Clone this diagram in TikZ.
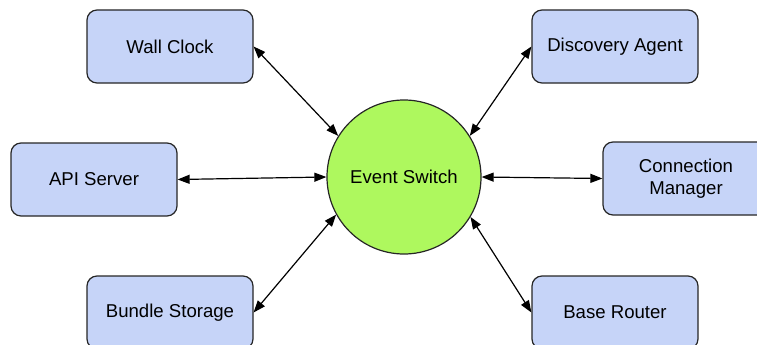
\documentclass[tikz,border=0pt]{standalone}
\usepackage{fontspec}
\setmainfont{Liberation Sans}
\usetikzlibrary{arrows.meta}
\definecolor{boxblue}{RGB}{198,212,248}
\definecolor{hubgreen}{RGB}{174,248,94}
\begin{document}
\begin{tikzpicture}[x=1pt,y=-1pt,
  comp/.style={draw=black!85,line width=1.2pt,fill=boxblue,rounded corners=10pt,
    minimum width=166pt,minimum height=73pt,inner sep=0pt,align=center,
    font=\fontsize{18.6}{22}\selectfont},
  hub/.style={draw=black!85,line width=1.2pt,fill=hubgreen,circle,
    minimum size=154pt,inner sep=0pt,font=\fontsize{18.6}{22}\selectfont},
  link/.style={line width=1.2pt,{Triangle[length=12pt,width=9pt]}-{Triangle[length=12pt,width=9pt]}}]
\useasboundingbox (0,0) rectangle (757,345);
\node[hub] (es) at (404,177) {Event Switch};
\node[comp] (wc) at (170,46.5) {Wall Clock};
\node[comp] (api) at (94,179.5) {API Server};
\node[comp] (bs) at (170,312.5) {Bundle Storage};
\node[comp] (da) at (615,46.5) {Discovery Agent};
\node[comp] (cm) at (686,178.5) {Connection\\Manager};
\node[comp] (br) at (615,312.5) {Base Router};
\draw[link] (wc.east) -- (es.148);
\draw[link] (api.east) -- (es.west);
\draw[link] (bs.east) -- (es.209);
\draw[link] (da.west) -- (es.32);
\draw[link] (es.east) -- (cm.west);
\draw[link] (es.-31) -- (br.west);
\end{tikzpicture}
\end{document}
